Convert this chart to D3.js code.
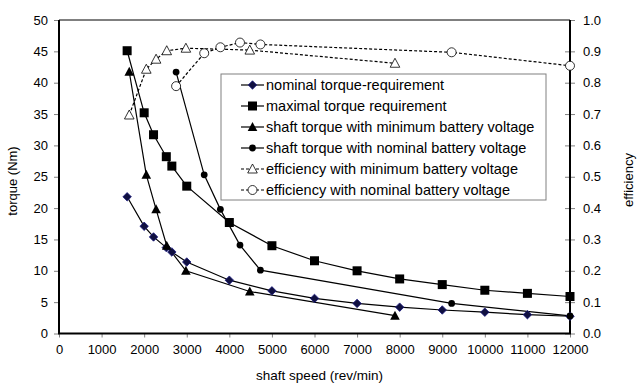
<!DOCTYPE html>
<html>
<head>
<meta charset="utf-8">
<script src="https://cdn.jsdelivr.net/npm/d3@7"></script>
<style>
  html, body { margin: 0; padding: 0; background: #fff; }
  svg { display: block; font-family: "Liberation Sans", Arial, sans-serif; }
</style>
</head>
<body>
<svg id="chart" width="644" height="383"></svg>
<script>
// Torque requirement curves (rev/min, Nm)
const nominalSpeed  = [1600, 2000, 2220, 2520, 2650, 3000, 4000, 5000, 6000, 7000, 8000, 9000, 10000, 11000, 12000];
const nominalTorque = [21.8, 17.1, 15.4, 13.7, 13.0, 11.4, 8.5, 6.8, 5.6, 4.8, 4.2, 3.75, 3.4, 3.0, 2.75];
const maximalTorque = [45.1, 35.2, 31.7, 28.2, 26.7, 23.5, 17.7, 14.0, 11.6, 10.0, 8.7, 7.8, 6.9, 6.4, 5.9];

// Motor operating points with minimum battery voltage
const minVoltSpeed      = [1650, 2050, 2280, 2530, 2980, 4480, 7890];
const minVoltTorque     = [41.75, 25.3, 19.8, 14.0, 10.0, 6.7, 2.85];
const minVoltEfficiency = [0.697, 0.843, 0.875, 0.902, 0.910, 0.904, 0.862];

// Motor operating points with nominal battery voltage
const nomVoltSpeed      = [2750, 3410, 3790, 4250, 4730, 9220, 12000];
const nomVoltTorque     = [41.7, 25.3, 19.8, 14.1, 10.1, 4.8, 2.8];
const nomVoltEfficiency = [0.789, 0.894, 0.913, 0.928, 0.922, 0.897, 0.854];

// Axis ticks
const speedTicks      = [0, 1000, 2000, 3000, 4000, 5000, 6000, 7000, 8000, 9000, 10000, 11000, 12000];
const torqueTicks     = [0, 5, 10, 15, 20, 25, 30, 35, 40, 45, 50];
const efficiencyTicks = [0, 0.1, 0.2, 0.3, 0.4, 0.5, 0.6, 0.7, 0.8, 0.9, 1.0];

const legendLabels = [
  "nominal torque-requirement",
  "maximal torque requirement",
  "shaft torque with minimum battery voltage",
  "shaft torque with nominal battery voltage",
  "efficiency with minimum battery voltage",
  "efficiency with nominal battery voltage"
];

const svg = d3.select("#chart");
const plotLeft = 59, plotRight = 570, plotTop = 20, plotBottom = 333.5;

const x  = d3.scaleLinear().domain([0, 12000]).range([plotLeft, plotRight]);
const yT = d3.scaleLinear().domain([0, 50]).range([plotBottom, plotTop]);
const yE = d3.scaleLinear().domain([0, 1]).range([plotBottom, plotTop]);

// Plot frame: thin top edge
svg.append("line").attr("x1", plotLeft).attr("x2", plotRight).attr("y1", plotTop).attr("y2", plotTop)
  .attr("stroke", "#000").attr("stroke-width", 1);

// Axes
const tickFont = 13;
const legendFont = 14.5;
function styleAxis(g) {
  g.selectAll("text").attr("font-size", tickFont).attr("fill", "#000")
    .attr("font-family", "'Liberation Sans', Arial, sans-serif");
  g.selectAll(".tick line").attr("stroke", "#808080");
  g.select(".domain").remove();
}

const xAxis = svg.append("g").attr("transform", `translate(0,${plotBottom})`)
  .call(d3.axisBottom(x).tickValues(speedTicks).tickSize(4).tickPadding(7).tickFormat(d3.format("d")));
styleAxis(xAxis);

const yAxisL = svg.append("g").attr("transform", `translate(${plotLeft},0)`)
  .call(d3.axisLeft(yT).tickValues(torqueTicks).tickSize(5).tickPadding(6).tickFormat(d3.format("d")));
styleAxis(yAxisL);

const yAxisR = svg.append("g").attr("transform", `translate(${plotRight},0)`)
  .call(d3.axisRight(yE).tickValues(efficiencyTicks).tickSize(5).tickPadding(8).tickFormat(d3.format(".1f")));
styleAxis(yAxisR);
// right-hand ticks cross the axis line
yAxisR.selectAll(".tick line").attr("x1", -5);

// Heavy axis lines
svg.append("line").attr("x1", plotLeft).attr("x2", plotLeft).attr("y1", plotTop).attr("y2", plotBottom)
  .attr("stroke", "#000").attr("stroke-width", 2);
svg.append("line").attr("x1", plotRight).attr("x2", plotRight).attr("y1", plotTop).attr("y2", plotBottom)
  .attr("stroke", "#000").attr("stroke-width", 2);
svg.append("line").attr("x1", plotLeft - 1).attr("x2", plotRight + 1).attr("y1", plotBottom).attr("y2", plotBottom)
  .attr("stroke", "#000").attr("stroke-width", 2);

// Axis titles
svg.append("text").attr("transform", `translate(17,181) rotate(-90)`)
  .attr("text-anchor", "middle").attr("font-size", 13).text("torque (Nm)");
svg.append("text").attr("transform", `translate(633,180) rotate(-90)`)
  .attr("text-anchor", "middle").attr("font-size", 13).text("efficiency");
svg.append("text").attr("x", (plotLeft + plotRight) / 2 + 5).attr("y", 380)
  .attr("text-anchor", "middle").attr("font-size", 13.5).text("shaft speed (rev/min)");

// Marker drawing
function marker(g, kind, cx, cy) {
  switch (kind) {
    case "diamond":
      g.append("path").attr("d", d3.symbol(d3.symbolDiamond2, 46)())
        .attr("transform", `translate(${cx},${cy})`)
        .attr("fill", "#101040").attr("stroke", "#1a1a80").attr("stroke-width", 0.8);
      break;
    case "square":
      g.append("rect").attr("x", cx - 4.5).attr("y", cy - 4.5).attr("width", 9).attr("height", 9)
        .attr("fill", "#000");
      break;
    case "triangle":
      g.append("path").attr("d", `M${cx},${cy - 5}L${cx + 4.8},${cy + 4}L${cx - 4.8},${cy + 4}Z`)
        .attr("fill", "#000");
      break;
    case "dot":
      g.append("circle").attr("cx", cx).attr("cy", cy).attr("r", 3.4).attr("fill", "#000");
      break;
    case "openTriangle":
      g.append("path").attr("d", `M${cx},${cy - 5}L${cx + 4.8},${cy + 4}L${cx - 4.8},${cy + 4}Z`)
        .attr("fill", "#fff").attr("stroke", "#000").attr("stroke-width", 0.8);
      break;
    case "openCircle":
      g.append("circle").attr("cx", cx).attr("cy", cy).attr("r", 4.5)
        .attr("fill", "#fff").attr("stroke", "#000").attr("stroke-width", 0.8);
      break;
  }
}

const series = [
  { xs: nominalSpeed, ys: nominalTorque,     scale: yT, kind: "diamond",      dash: null },
  { xs: nominalSpeed, ys: maximalTorque,     scale: yT, kind: "square",       dash: null },
  { xs: minVoltSpeed, ys: minVoltTorque,     scale: yT, kind: "triangle",     dash: null },
  { xs: nomVoltSpeed, ys: nomVoltTorque,     scale: yT, kind: "dot",          dash: null },
  { xs: minVoltSpeed, ys: minVoltEfficiency, scale: yE, kind: "openTriangle", dash: "3,2" },
  { xs: nomVoltSpeed, ys: nomVoltEfficiency, scale: yE, kind: "openCircle",   dash: "3,2" }
];

const plot = svg.append("g");
series.forEach(s => {
  const pts = s.xs.map((v, i) => [x(v), s.scale(s.ys[i])]);
  plot.append("path").attr("d", d3.line()(pts))
    .attr("fill", "none").attr("stroke", "#000").attr("stroke-width", 1.2)
    .attr("stroke-dasharray", s.dash);
});
series.forEach(s => {
  const g = plot.append("g");
  s.xs.forEach((v, i) => marker(g, s.kind, x(v), s.scale(s.ys[i])));
});

// Legend
const legend = svg.append("g");
legend.append("rect").attr("x", 221).attr("y", 74).attr("width", 325).attr("height", 126)
  .attr("fill", "#fff").attr("stroke", "#808080").attr("stroke-width", 1);
series.forEach((s, i) => {
  const cy = 85 + i * 21;
  legend.append("line").attr("x1", 241).attr("x2", 264).attr("y1", cy).attr("y2", cy)
    .attr("stroke", "#000").attr("stroke-width", 1.2).attr("stroke-dasharray", s.dash);
  marker(legend, s.kind, 252.5, cy);
  legend.append("text").attr("x", 266).attr("y", cy + 5).attr("font-size", legendFont)
    .text(legendLabels[i]);
});
</script>
</body>
</html>
